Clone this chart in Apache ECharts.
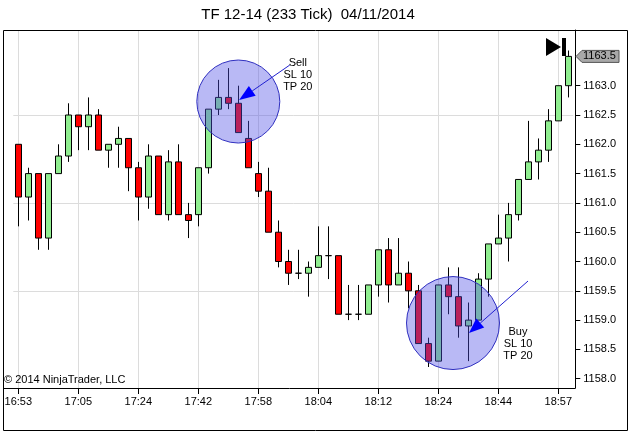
<!DOCTYPE html>
<html><head><meta charset="utf-8">
<script src="https://cdn.jsdelivr.net/npm/echarts@6/dist/echarts.min.js"></script>
<style>html,body{margin:0;padding:0;background:#fff}#c{width:629px;height:432px}</style>
</head><body><div id="c"></div>
<script>
// ---- data ----
const chartTitle = 'TF 12-14 (233 Tick)  04/11/2014';
const copyrightText = '\u00A9 2014 NinjaTrader, LLC';
const timeLabels = ['16:53','17:05','17:24','17:42','17:58','18:04','18:12','18:24','18:44','18:57'];
const barsPerLabel = 6;
const opens  = [1162.0,1161.1,1161.5,1160.4,1161.5,1161.8,1162.5,1162.3,1162.5,1161.9,1162.0,1162.1,1161.6,1161.1,1161.8,1160.8,1161.7,1160.8,1160.8,1161.6,1162.6,1162.8,1162.7,1162.1,1161.5,1161.2,1160.5,1160.0,1159.8,1159.8,1159.9,1160.1,1160.1,1159.1,1159.1,1159.1,1159.6,1160.2,1159.6,1159.8,1159.5,1158.6,1158.3,1159.6,1159.4,1158.9,1159.0,1159.7,1160.3,1160.4,1160.8,1161.4,1161.7,1161.9,1162.4,1163.0];
const highs  = [1162.0,1161.6,1161.5,1161.5,1162.0,1162.7,1162.5,1162.8,1162.6,1162.0,1162.3,1162.1,1161.7,1162.0,1161.8,1161.9,1162.0,1161.0,1161.6,1162.6,1163.1,1163.3,1163.0,1162.4,1161.7,1161.6,1160.7,1160.2,1160.2,1160.0,1160.6,1160.6,1160.1,1159.6,1159.6,1159.6,1160.2,1160.4,1160.4,1160.0,1159.6,1158.7,1159.6,1159.9,1159.9,1159.3,1159.8,1160.3,1160.8,1161.0,1161.4,1162.4,1162.1,1162.6,1163.0,1163.6];
const lows   = [1160.6,1160.7,1160.2,1160.2,1161.5,1161.7,1161.9,1161.9,1161.9,1161.6,1161.6,1161.2,1160.7,1160.9,1160.8,1160.7,1160.8,1160.4,1160.6,1161.5,1162.5,1162.6,1162.2,1161.6,1161.1,1160.5,1159.9,1159.6,1159.7,1159.4,1159.9,1159.7,1159.1,1159.0,1159.0,1159.1,1159.4,1159.3,1159.6,1159.2,1158.6,1158.2,1158.3,1159.1,1158.7,1158.3,1159.0,1159.4,1160.3,1160.0,1160.7,1161.4,1161.4,1161.7,1162.4,1162.8];
const closes = [1161.1,1161.5,1160.4,1161.5,1161.8,1162.5,1162.3,1162.5,1161.9,1162.0,1162.1,1161.6,1161.1,1161.8,1160.8,1161.7,1160.8,1160.7,1161.6,1162.6,1162.8,1162.7,1162.2,1161.6,1161.2,1160.5,1160.0,1159.8,1159.8,1159.9,1160.1,1160.1,1159.1,1159.1,1159.1,1159.6,1160.2,1159.6,1159.8,1159.5,1158.6,1158.3,1159.6,1159.4,1158.9,1159.0,1159.7,1160.3,1160.4,1160.8,1161.4,1161.7,1161.9,1162.4,1163.0,1163.5];
const priceTicks = [1158.0,1158.5,1159.0,1159.5,1160.0,1160.5,1161.0,1161.5,1162.0,1162.5,1163.0];
const gridPrices = [1159.5,1161.0,1162.5];
const lastPrice = 1163.5;
const sellLines = ['Sell','SL 10','TP 20'];
const buyLines  = ['Buy','SL 10','TP 20'];
const sellBar = 22, sellPrice = 1162.73;
const buyBar = 43, buyPrice = 1158.95;

// ---- chart ----
const FONT = "'Liberation Sans', Arial, sans-serif";
const categories = opens.map((_, i) => (i % barsPerLabel === 0 ? (timeLabels[i / barsPerLabel] || '') : ''));
const ohlc = opens.map((o, i) => [o, closes[i], lows[i], highs[i]]);
const yMin = 1157.8415, yMax = 1163.9505;

const chart = echarts.init(document.getElementById('c'), null, {renderer: 'canvas'});
chart.setOption({
  animation: false,
  backgroundColor: '#fff',
  grid: {left: 13.3, right: 55.7, top: 30, bottom: 44, containLabel: false},
  xAxis: {
    type: 'category', data: categories, boundaryGap: true,
    axisLine: {show: false},
    axisTick: {show: true, interval: barsPerLabel - 1, alignWithLabel: true, length: 6, lineStyle: {color: '#000'}},
    axisLabel: {interval: barsPerLabel - 1, color: '#000', fontSize: 11, fontFamily: FONT, margin: 8},
    splitLine: {show: true, interval: barsPerLabel - 1, alignWithLabel: true, lineStyle: {color: '#dcdcdc', width: 1}}
  },
  yAxis: [{
    type: 'value', position: 'right', min: yMin, max: yMax, offset: 2,
    axisLine: {show: true, lineStyle: {color: '#000'}},
    axisTick: {show: true, length: 5, lineStyle: {color: '#000'}, customValues: priceTicks},
    axisLabel: {customValues: priceTicks, formatter: v => v.toFixed(1), color: '#000', fontSize: 11, fontFamily: FONT, margin: 8},
    splitLine: {show: false}
  }, {
    type: 'value', position: 'right', min: yMin, max: yMax,
    axisLine: {show: false},
    axisTick: {show: false, customValues: gridPrices},
    axisLabel: {show: false, customValues: gridPrices},
    splitLine: {show: true, lineStyle: {color: '#dcdcdc', width: 1}}
  }],
  series: [{
    type: 'candlestick', data: ohlc, barWidth: 6, yAxisIndex: 0,
    itemStyle: {color: '#90EE90', color0: '#FF0000', borderColor: '#000', borderColor0: '#000', borderColorDoji: '#000', borderWidth: 1}
  }]
});

function px(bar, price) { return chart.convertToPixel({xAxisIndex: 0, yAxisIndex: 0}, [bar, price]); }
function arrow(x1, y1, x2, y2, headLen, headW) {
  const dx = x2 - x1, dy = y2 - y1, L = Math.hypot(dx, dy), ux = dx / L, uy = dy / L;
  const bx = x2 - ux * headLen, by = y2 - uy * headLen, pxn = -uy * headW, pyn = ux * headW;
  return [
    {type: 'line', z: 101, shape: {x1, y1, x2: bx, y2: by}, style: {stroke: '#2020d0', lineWidth: 1}},
    {type: 'polygon', z: 102, shape: {points: [[x2, y2], [bx + pxn, by + pyn], [bx - pxn, by - pyn]]}, style: {fill: '#0000ff'}}
  ];
}
function noteText(x, y0, lines) {
  return lines.map((t, k) => ({type: 'text', z: 103, x, y: y0 + k * 12, style: {text: t, fill: '#000', font: '11px ' + FONT, textAlign: 'center', textVerticalAlign: 'middle'}}));
}

const sc = px(sellBar, sellPrice);
const bc = px(buyBar, buyPrice);
const bcx = bc[0] + 4.7;
const lp = px(0, lastPrice)[1];
const elems = [];
// frames
elems.push({type: 'rect', z: 90, shape: {x: 3.5, y: 30.5, width: 624, height: 400}, style: {fill: 'none', stroke: '#000', lineWidth: 1}});
elems.push({type: 'line', z: 90, shape: {x1: 3.5, y1: 388.5, x2: 575.5, y2: 388.5}, style: {stroke: '#000', lineWidth: 1}});
// title & copyright
elems.push({type: 'text', z: 90, x: 308, y: 15, style: {text: chartTitle, fill: '#000', font: '15px ' + FONT, textAlign: 'center', textVerticalAlign: 'middle'}});
elems.push({type: 'text', z: 90, x: 4, y: 380, style: {text: copyrightText, fill: '#000', font: '11px ' + FONT, textAlign: 'left', textVerticalAlign: 'middle'}});
// annotations
elems.push({type: 'circle', z: 100, shape: {cx: sc[0], cy: sc[1], r: 41.5}, style: {fill: 'rgba(80,80,230,0.4)', stroke: '#3030c0', lineWidth: 1}});
elems.push(...arrow(sc[0] + 51.5, sc[1] - 36.5, sc[0] + 0.8, sc[1] - 1.5, 16, 6));
elems.push(...noteText(sc[0] + 59.5, sc[1] - 38.5, sellLines));
elems.push({type: 'circle', z: 100, shape: {cx: bcx, cy: bc[1], r: 46.5}, style: {fill: 'rgba(80,80,230,0.4)', stroke: '#3030c0', lineWidth: 1}});
elems.push(...arrow(bcx + 75, bc[1] - 42, bcx + 16, bc[1] + 10, 15, 6));
elems.push(...noteText(bcx + 65, bc[1] + 9, buyLines));
// last price tag
elems.push({type: 'polygon', z: 100, shape: {points: [[576, lp], [582, lp - 6], [619, lp - 6], [619, lp + 6], [582, lp + 6]]}, style: {fill: '#a8a8a8', stroke: '#555', lineWidth: 1}});
elems.push({type: 'text', z: 101, x: 583, y: lp, style: {text: lastPrice.toFixed(1), fill: '#000', font: '11px ' + FONT, textAlign: 'left', textVerticalAlign: 'middle'}});
// scroll-to-end icon
elems.push({type: 'polygon', z: 100, shape: {points: [[546, 38], [546, 56], [561, 47]]}, style: {fill: '#000'}});
elems.push({type: 'rect', z: 100, shape: {x: 562, y: 38, width: 4, height: 18}, style: {fill: '#000'}});
chart.setOption({graphic: {elements: elems}});
</script></body></html>
